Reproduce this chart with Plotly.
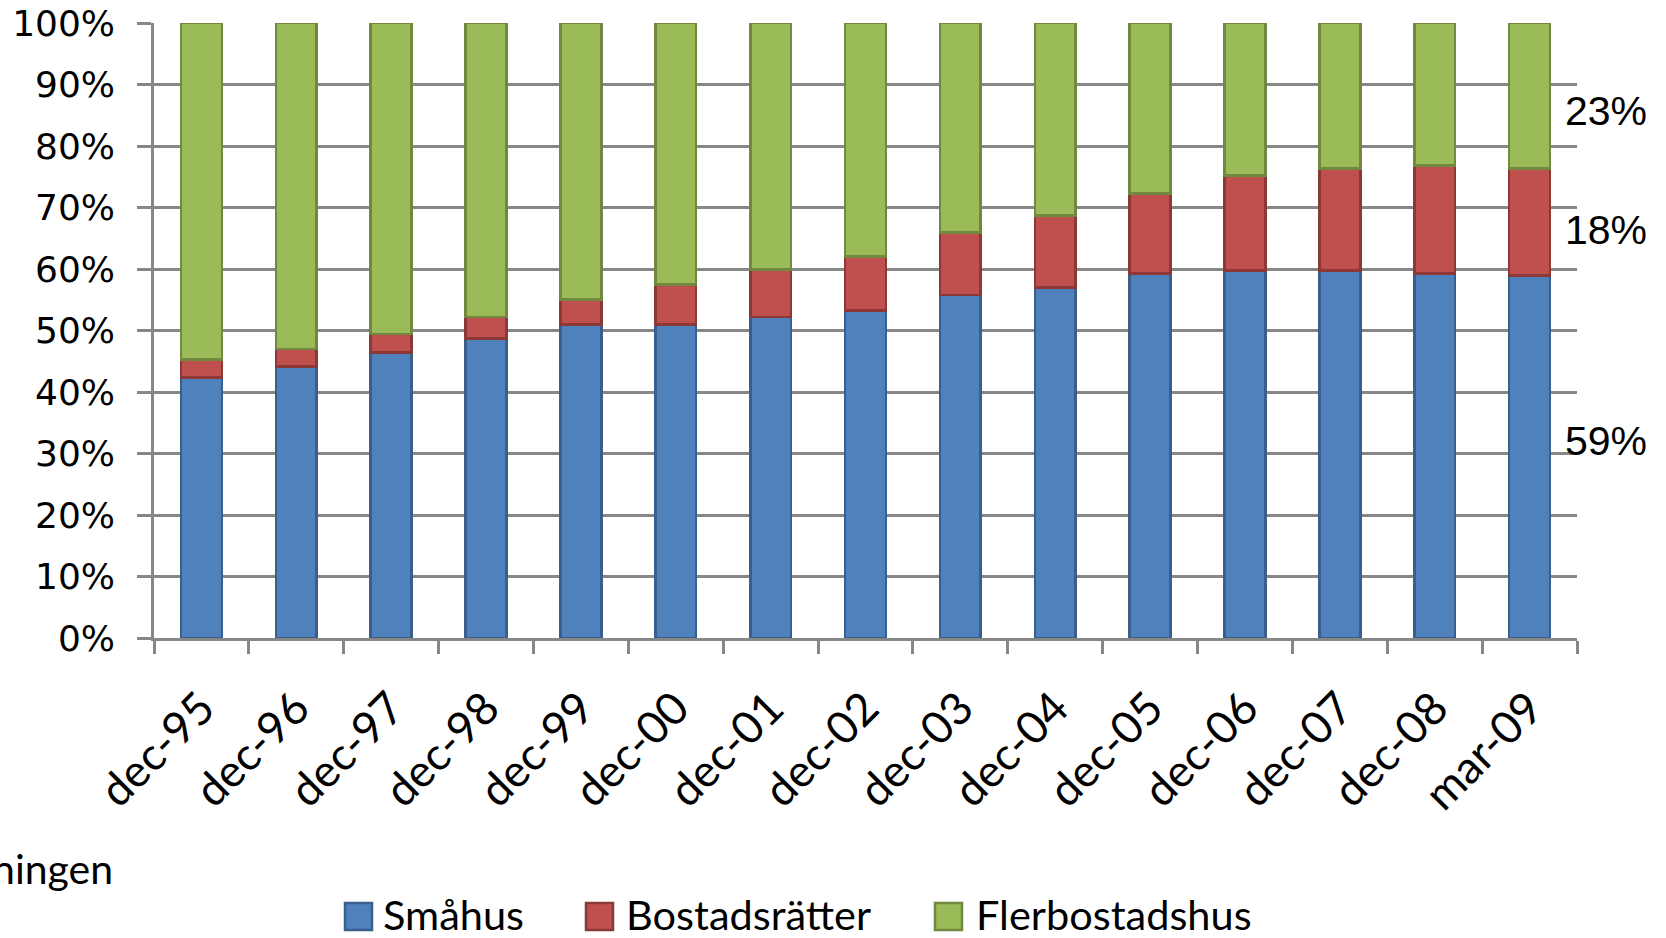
import plotly.graph_objects as go

categories = ["dec-95", "dec-96", "dec-97", "dec-98", "dec-99", "dec-00", "dec-01",
              "dec-02", "dec-03", "dec-04", "dec-05", "dec-06", "dec-07", "dec-08", "mar-09"]
smahus = [42.4, 44.1, 46.4, 48.7, 51.0, 51.0, 52.2, 53.3, 55.8, 57.0, 59.3, 59.8, 59.8, 59.3, 58.9]
bostadsratter = [2.9, 2.9, 3.0, 3.5, 4.0, 6.5, 7.7, 8.7, 10.1, 11.7, 13.0, 15.4, 16.5, 17.5, 17.4]
flerbostadshus = [54.7, 53.0, 50.6, 47.8, 45.0, 42.5, 40.1, 38.0, 34.1, 31.3, 27.7, 24.8, 23.7, 23.2, 23.7]
series_names = ["Småhus", "Bostadsrätter", "Flerbostadshus"]
y_tick_values = [0, 10, 20, 30, 40, 50, 60, 70, 80, 90, 100]
y_tick_labels = ["0%", "10%", "20%", "30%", "40%", "50%", "60%", "70%", "80%", "90%", "100%"]
end_labels = ["23%", "18%", "59%"]
end_label_y = [85.7, 66.3, 32.1]
source_text = "ningen"

fills = ["#4F81BD", "#C0504D", "#9BBB59"]
borders = ["#3A5F8C", "#8C3836", "#71893F"]
grid = "#878787"

W, H = 1666, 938
# plot area in page pixels
PX0, PX1, PY0, PY1 = 154, 1577, 23, 638
L, T, R, B = PX0, PY0, W - PX1, H - PY1
PW, PH = PX1 - PX0, PY1 - PY0


def px(x):
    return (x - PX0) / PW


def py(y):
    return (PY1 - y) / PH


fig = go.Figure()
for name, vals, fc, bc in zip(series_names, [smahus, bostadsratter, flerbostadshus], fills, borders):
    fig.add_trace(go.Bar(x=categories, y=vals, name=name,
                         marker=dict(color=fc, line=dict(color=bc, width=2.6)),
                         showlegend=False))

fig.update_layout(
    width=W, height=H, autosize=False,
    barmode="stack", bargap=0.57,
    margin=dict(l=L, r=R, t=T, b=B, autoexpand=False),
    plot_bgcolor="white", paper_bgcolor="white",
    font=dict(family="Lato", color="black"),
)
fig.update_xaxes(
    type="category", tickson="boundaries", ticks="outside", ticklen=13, tickwidth=2.5, tickcolor=grid,
    showline=True, linecolor=grid, linewidth=2.5, showgrid=False, automargin=False,
    tickangle=-45, tickfont=dict(family="Lato", size=45, color="black"), ticklabelstandoff=23,
    ticklabeloverflow="allow",
)
fig.update_yaxes(
    range=[0, 100], tickmode="array", tickvals=y_tick_values, ticktext=y_tick_labels,
    ticks="outside", ticklen=14, tickwidth=2.5, tickcolor=grid,
    showline=True, linecolor=grid, linewidth=2.5, automargin=False,
    showgrid=True, gridcolor=grid, gridwidth=2.5, zeroline=False,
    tickfont=dict(family="DejaVu Sans", size=36, color="black"), ticklabelstandoff=15,
    ticklabeloverflow="allow",
)

for txt, yv in zip(end_labels, end_label_y):
    fig.add_annotation(x=px(1563), xref="paper", y=yv, yref="y", text=txt, showarrow=False,
                       xanchor="left", yanchor="middle",
                       font=dict(family="Liberation Sans", size=41, color="black"))

# legend drawn with shapes and text
leg_sq = [(345, 372), (586, 613), (935, 962)]
leg_tx = [382, 625, 975]
for (x0, x1), tx, name, fc, bc in zip(leg_sq, leg_tx, series_names, fills, borders):
    fig.add_shape(type="rect", xref="paper", yref="paper", x0=px(x0), x1=px(x1), y0=py(930), y1=py(903),
                  fillcolor=fc, line=dict(color=bc, width=2.5))
    fig.add_annotation(x=px(tx), xref="paper", y=py(914), yref="paper", text=name, showarrow=False,
                       xanchor="left", yanchor="middle", borderpad=0,
                       font=dict(family="Lato", size=41.5, color="black"))

fig.add_annotation(x=px(-10), xref="paper", y=py(868), yref="paper", text=source_text, showarrow=False,
                   xanchor="left", yanchor="middle", font=dict(family="Lato", size=41, color="black"))

fig.write_html("out.html", config={"displayModeBar": False},
               post_script="document.body.style.margin='0';document.body.style.overflow='hidden';")
